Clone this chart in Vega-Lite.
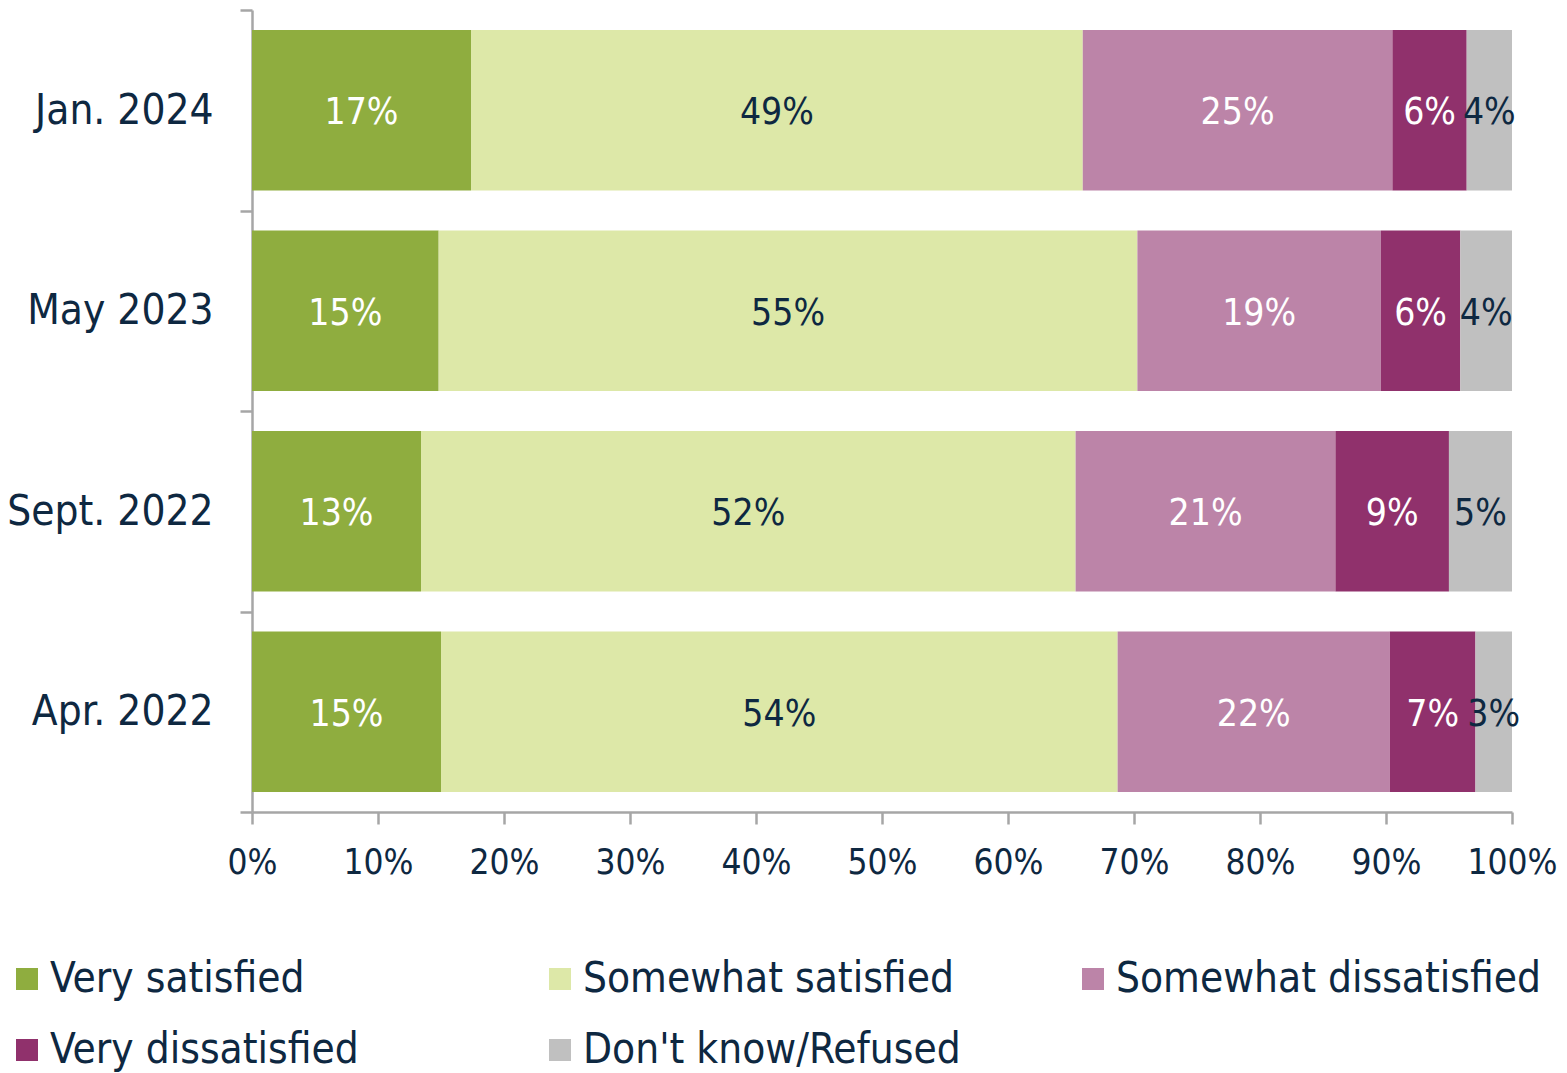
{
  "$schema": "https://vega.github.io/schema/vega-lite/v6.json",
  "width": 1260,
  "height": 802,
  "autosize": {"type": "none"},
  "padding": {"left": 252, "top": 10, "right": 55, "bottom": 261},
  "background": "white",
  "config": {
    "view": {"stroke": null},
    "font": "DejaVu Sans Condensed, DejaVu Sans"
  },
  "data": {
    "values": [
      {"wave": "Jan. 2024", "resp": "Very satisfied", "code": 1, "pct": 17.4},
      {"wave": "Jan. 2024", "resp": "Somewhat satisfied", "code": 2, "pct": 48.6},
      {"wave": "Jan. 2024", "resp": "Somewhat dissatisfied", "code": 3, "pct": 24.6},
      {"wave": "Jan. 2024", "resp": "Very dissatisfied", "code": 4, "pct": 5.9},
      {"wave": "Jan. 2024", "resp": "Don't know/Refused", "code": 5, "pct": 3.6},
      {"wave": "May 2023", "resp": "Very satisfied", "code": 1, "pct": 14.8},
      {"wave": "May 2023", "resp": "Somewhat satisfied", "code": 2, "pct": 55.4},
      {"wave": "May 2023", "resp": "Somewhat dissatisfied", "code": 3, "pct": 19.3},
      {"wave": "May 2023", "resp": "Very dissatisfied", "code": 4, "pct": 6.3},
      {"wave": "May 2023", "resp": "Don't know/Refused", "code": 5, "pct": 4.1},
      {"wave": "Sept. 2022", "resp": "Very satisfied", "code": 1, "pct": 13.4},
      {"wave": "Sept. 2022", "resp": "Somewhat satisfied", "code": 2, "pct": 51.9},
      {"wave": "Sept. 2022", "resp": "Somewhat dissatisfied", "code": 3, "pct": 20.6},
      {"wave": "Sept. 2022", "resp": "Very dissatisfied", "code": 4, "pct": 9.0},
      {"wave": "Sept. 2022", "resp": "Don't know/Refused", "code": 5, "pct": 5.0},
      {"wave": "Apr. 2022", "resp": "Very satisfied", "code": 1, "pct": 15.0},
      {"wave": "Apr. 2022", "resp": "Somewhat satisfied", "code": 2, "pct": 53.7},
      {"wave": "Apr. 2022", "resp": "Somewhat dissatisfied", "code": 3, "pct": 21.6},
      {"wave": "Apr. 2022", "resp": "Very dissatisfied", "code": 4, "pct": 6.8},
      {"wave": "Apr. 2022", "resp": "Don't know/Refused", "code": 5, "pct": 2.9}
    ]
  },
  "transform": [
    {"stack": "pct", "groupby": ["wave"], "sort": [{"field": "code", "order": "ascending"}], "offset": "normalize", "as": ["x0", "x1"]},
    {"calculate": "(datum.x0 + datum.x1) / 2", "as": "xm"},
    {"calculate": "format(datum.pct, '.0f') + '%'", "as": "label"}
  ],
  "encoding": {
    "y": {
      "field": "wave",
      "type": "nominal",
      "sort": ["Jan. 2024", "May 2023", "Sept. 2022", "Apr. 2022"],
      "scale": {"paddingInner": 0, "paddingOuter": 0},
      "title": null,
      "axis": {
        "domainColor": "#A6A6A6",
        "domainWidth": 2.5,
        "tickColor": "#A6A6A6",
        "tickWidth": 2.5,
        "tickSize": 12,
        "tickBand": "extent",
        "labelFontSize": 42,
        "labelColor": "#0E2841",
        "labelPadding": 27,
        "labelLimit": 400
      }
    }
  },
  "layer": [
    {
      "mark": {"type": "bar", "height": {"band": 0.8}},
      "encoding": {
        "x": {
          "field": "x0",
          "type": "quantitative",
          "scale": {"domain": [0, 1], "nice": false},
          "title": null,
          "axis": {
            "format": ".0%",
            "values": [0, 0.1, 0.2, 0.3, 0.4, 0.5, 0.6, 0.7, 0.8, 0.9, 1],
            "grid": false,
            "domainColor": "#A6A6A6",
            "domainWidth": 2.5,
            "tickColor": "#A6A6A6",
            "tickWidth": 2.5,
            "tickSize": 12,
            "labelFontSize": 35,
            "labelColor": "#0E2841",
            "labelPadding": 21,
            "labelFlush": false
          }
        },
        "x2": {"field": "x1"},
        "color": {
          "field": "resp",
          "type": "nominal",
          "scale": {
            "domain": ["Very satisfied", "Somewhat satisfied", "Somewhat dissatisfied", "Very dissatisfied", "Don't know/Refused"],
            "range": ["#8FAD3F", "#DDE8A8", "#BC84A8", "#90316C", "#C0C0C0"]
          },
          "legend": {
            "title": null,
            "orient": "none",
            "legendX": -246,
            "legendY": 948,
            "direction": "horizontal",
            "columns": 3,
            "gridAlign": "all",
            "symbolType": "square",
            "symbolSize": 484,
            "symbolStrokeWidth": 0,
            "labelFontSize": 42,
            "labelColor": "#0E2841",
            "labelOffset": 2,
            "labelLimit": 700,
            "columnPadding": 63,
            "rowPadding": 29
          }
        }
      }
    },
    {
      "mark": {"type": "text", "fontSize": 37, "baseline": "middle", "align": "center", "dy": 3},
      "encoding": {
        "x": {"field": "xm", "type": "quantitative"},
        "text": {"field": "label"},
        "color": {
          "condition": {"test": "indexof(['Very satisfied', 'Somewhat dissatisfied', 'Very dissatisfied'], datum.resp) >= 0", "value": "white"},
          "value": "#0E2841"
        }
      }
    }
  ]
}
